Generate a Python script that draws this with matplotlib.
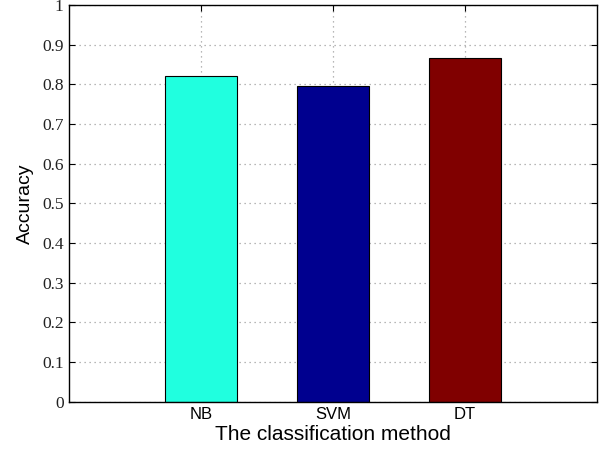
import numpy as np
import matplotlib
matplotlib.use('Agg')
import matplotlib.pyplot as plt
from matplotlib.font_manager import FontProperties

# classification results
methods = ['NB', 'SVM', 'DT']
accuracy = [0.822, 0.797, 0.867]
bar_colors = ['#20ffdf', '#00008f', '#800000']
ytick_vals = [0, 0.1, 0.2, 0.3, 0.4, 0.5, 0.6, 0.7, 0.8, 0.9, 1]
ytick_text = ['0', '0.1', '0.2', '0.3', '0.4', '0.5', '0.6', '0.7', '0.8', '0.9', '1']

fig = plt.figure(figsize=(6.06, 4.49), dpi=100)
ax = fig.add_axes([0.114, 0.105, 0.871, 0.884])

x = np.arange(1, len(methods) + 1)
ax.bar(x, accuracy, width=0.55, color=bar_colors, edgecolor='black', linewidth=0.8, zorder=2)

ax.set_xlim(0, 4)
ax.set_ylim(0, 1)
ax.grid(True, linestyle=(0, (1, 3)), color='#a0a0a0', linewidth=0.9, zorder=0)
ax.set_axisbelow(True)
ax.tick_params(direction='in', length=4, right=True, top=True, width=0.8, pad=4)
for s in ax.spines.values():
    s.set_linewidth(1.0)

# sans for x ticks, serif for y ticks (like the original)
sans = FontProperties(family='Liberation Sans', size=12)
serif = FontProperties(family='Liberation Serif', size=12.5)
ax.set_xticks(x)
ax.set_xticklabels(methods, fontproperties=sans)
ax.set_yticks(ytick_vals)
ax.set_yticklabels(ytick_text, fontproperties=serif, color='#222222')

ax.set_xlabel('The classification method', family=['Liberation Sans', 'DejaVu Sans'], fontsize=15, labelpad=2)
ax.set_ylabel('Accuracy', family=['Liberation Sans', 'DejaVu Sans'], fontsize=14, labelpad=6)

plt.savefig('out.png', dpi=100)
